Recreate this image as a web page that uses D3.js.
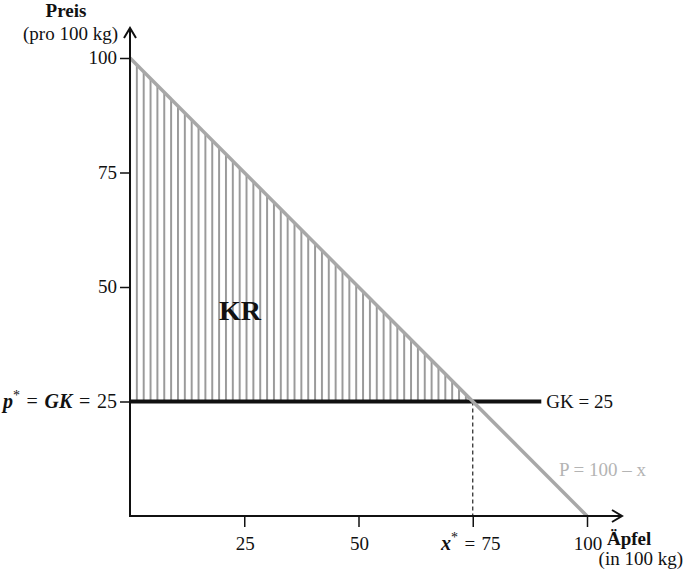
<!DOCTYPE html>
<html><head><meta charset="utf-8">
<script src="https://cdn.jsdelivr.net/npm/d3@7"></script>
<style>body{margin:0;background:#fff}svg{display:block}text{font-family:"Liberation Serif","Times New Roman",serif;}</style>
</head><body>
<svg id="c" width="685" height="571"></svg>
<script>
const xTicks = [25, 50, 75, 100];
const xTickLabels = ["25", "50", "x*", "100"];
const yTicks = [25, 50, 75, 100];
const yTickLabels = ["p*", "50", "75", "100"];
const demandX = [0, 100];
const demandP = [100, 0];
const gkValue = 25;
const gkExtent = [0, 90];
const xStar = 75;
const hatchStep = 1.5;

const svg = d3.select("#c");
const x = d3.scaleLinear().domain([0, 100]).range([130, 587]);
const y = d3.scaleLinear().domain([0, 100]).range([516, 58]);

// hatch pattern
const defs = svg.append("defs");
const step = x(hatchStep) - x(0);
const pat = defs.append("pattern").attr("id", "hatch")
  .attr("patternUnits", "userSpaceOnUse")
  .attr("x", x(0) + step - 1).attr("y", 0)
  .attr("width", step).attr("height", 571);
pat.append("line").attr("x1", 1).attr("x2", 1).attr("y1", 0).attr("y2", 571)
  .attr("stroke", "#9a9a9a").attr("stroke-width", 2);

// consumer surplus area
const area = [[0, demandP[0]], [xStar, gkValue], [0, gkValue]];
svg.append("path")
  .attr("d", d3.line().x(d => x(d[0])).y(d => y(d[1]))(area) + "Z")
  .attr("fill", "url(#hatch)");

// dashed x* line
svg.append("line")
  .attr("x1", x(xStar)).attr("x2", x(xStar))
  .attr("y1", y(gkValue)).attr("y2", y(0))
  .attr("stroke", "#222").attr("stroke-width", 1.2).attr("stroke-dasharray", "4,3");

// GK line
svg.append("line")
  .attr("x1", x(gkExtent[0])).attr("x2", x(gkExtent[1]))
  .attr("y1", y(gkValue)).attr("y2", y(gkValue))
  .attr("stroke", "#111").attr("stroke-width", 4);

// demand line
svg.append("line")
  .attr("x1", x(demandX[0])).attr("y1", y(demandP[0]))
  .attr("x2", x(demandX[1])).attr("y2", y(demandP[1]))
  .attr("stroke", "#a8a8a8").attr("stroke-width", 3.5);

// axes
const ax = svg.append("g").attr("stroke", "#111").attr("stroke-width", 2).attr("fill", "none");
ax.append("line").attr("x1", x(0)).attr("x2", 622).attr("y1", y(0)).attr("y2", y(0));
ax.append("line").attr("x1", x(0)).attr("x2", x(0)).attr("y1", y(0) + 1).attr("y2", 28);
ax.append("path").attr("d", `M${x(0) - 6},38 L${x(0)},28 L${x(0) + 6},38`);
ax.append("path").attr("d", `M612,${y(0) - 6} L622,${y(0)} L612,${y(0) + 6}`);

// ticks
const xt = svg.append("g").attr("transform", `translate(0,${y(0)})`)
  .call(d3.axisBottom(x).tickValues(xTicks).tickSize(11).tickFormat(""));
xt.select(".domain").remove();
xt.selectAll("line").attr("stroke", "#111").attr("stroke-width", 1.5);
const yt = svg.append("g").attr("transform", `translate(${x(0)},0)`)
  .call(d3.axisLeft(y).tickValues(yTicks).tickSize(10).tickFormat(""));
yt.select(".domain").remove();
yt.selectAll("line").attr("stroke", "#111").attr("stroke-width", 1.5);

// tick labels
const fs = 19;
const sp = "\u2004";
xTicks.forEach((v, i) => {
  const t = svg.append("text").attr("x", x(v) - (v === xStar ? 2 : -1)).attr("y", 550)
    .attr("text-anchor", "middle").attr("font-size", fs).attr("fill", "#111");
  if (v === xStar) {
    t.append("tspan").attr("font-style", "italic").attr("font-weight", "bold").attr("font-size", 20).text("x");
    t.append("tspan").attr("font-size", 14).attr("dy", -8).text("*");
    t.append("tspan").attr("dy", 8).text(sp + "=" + sp + v);
  } else t.text(xTickLabels[i]);
});
yTicks.forEach((v, i) => {
  const t = svg.append("text").attr("x", 117).attr("y", y(v) + 6)
    .attr("text-anchor", "end").attr("font-size", fs).attr("fill", "#111");
  if (v === gkValue) {
    t.attr("font-size", 20);
    t.append("tspan").attr("font-style", "italic").attr("font-weight", "bold").text("p");
    t.append("tspan").attr("font-size", 14).attr("dy", -8).text("*");
    t.append("tspan").attr("dy", 8).text(sp + "=" + sp);
    t.append("tspan").attr("font-style", "italic").attr("font-weight", "bold").text("GK");
    t.append("tspan").text(sp + "=" + sp + v);
  } else t.text(yTickLabels[i]);
});

// axis titles
svg.append("text").attr("x", 66).attr("y", 17).attr("text-anchor", "middle")
  .attr("font-size", 19).attr("font-weight", "bold").attr("fill", "#111").text("Preis");
svg.append("text").attr("x", 118).attr("y", 40).attr("text-anchor", "end")
  .attr("font-size", 19).attr("fill", "#111").text("(pro 100 kg)");
svg.append("text").attr("x", 607).attr("y", 545)
  .attr("font-size", 19).attr("font-weight", "bold").attr("fill", "#111").text("Äpfel");
svg.append("text").attr("x", 683).attr("y", 565).attr("text-anchor", "end")
  .attr("font-size", 19).attr("fill", "#111").text("(in 100 kg)");

// annotations
svg.append("text").attr("x", x(gkExtent[1]) + 5).attr("y", y(gkValue) + 6)
  .attr("font-size", 19).attr("fill", "#111").text("GK = " + gkValue);
svg.append("text").attr("x", 559).attr("y", 476)
  .attr("font-size", 19).attr("fill", "#b4b4b4").text("P = 100 – x");
svg.append("text").attr("x", 219).attr("y", 320)
  .attr("font-size", 28).attr("font-weight", "bold").attr("fill", "#111").text("KR");
</script>
</body></html>
